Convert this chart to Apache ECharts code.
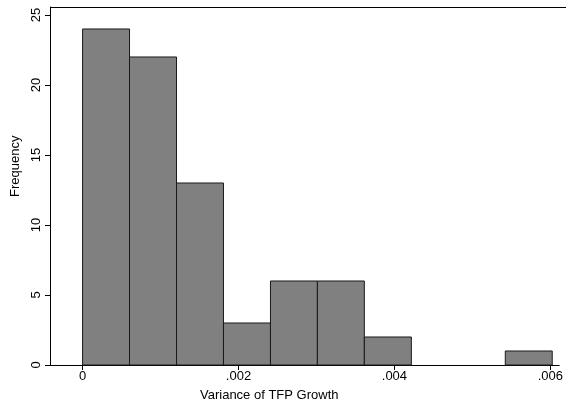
<!DOCTYPE html>
<html>
<head>
<meta charset="utf-8">
<script src="https://cdn.jsdelivr.net/npm/echarts@6/dist/echarts.min.js"></script>
<style>
  html, body { margin: 0; padding: 0; background: #fff; }
  #chart { width: 566px; height: 403px; }
</style>
</head>
<body>
<div id="chart"></div>
<script>
// histogram bins (left/right edges) and counts
var binEdges = [0, 0.000602, 0.001205, 0.001807, 0.002410, 0.003012, 0.003614, 0.004217, 0.004819, 0.005422, 0.006024];
var binCounts = [24, 22, 13, 3, 6, 6, 2, 0, 0, 1];

// tick positions and labels
var xTicks = [0, 0.002, 0.004, 0.006];
var xTickLabels = ['0', '.002', '.004', '.006'];
var yTicks = [0, 5, 10, 15, 20, 25];

var fontFam = '"Liberation Sans", Arial, sans-serif';

var barData = [];
for (var i = 0; i < binCounts.length; i++) {
  barData.push([binEdges[i], binEdges[i + 1], binCounts[i]]);
}

var myChart = echarts.init(document.getElementById('chart'));
var option = {
  animation: false,
  grid: { left: 50, right: 0, top: 7, bottom: 38 },
  xAxis: {
    type: 'value',
    min: -0.000418,
    max: 0.006114,
    splitLine: { show: false },
    axisLine: { show: true, onZero: false, lineStyle: { color: '#000', width: 1 } },
    axisTick: { show: true, length: 5, customValues: xTicks, lineStyle: { color: '#000' } },
    axisLabel: {
      customValues: xTicks,
      margin: 5,
      color: '#000',
      fontSize: 13,
      fontFamily: fontFam,
      formatter: function (v) {
        var idx = xTicks.indexOf(v);
        return idx >= 0 ? xTickLabels[idx] : '';
      }
    }
  },
  yAxis: {
    type: 'value',
    min: 0,
    max: 25.57,
    splitLine: { show: false },
    axisLine: { show: true, onZero: false, lineStyle: { color: '#000', width: 1 } },
    axisTick: { show: true, length: 5, customValues: yTicks, lineStyle: { color: '#000' } },
    axisLabel: {
      customValues: yTicks,
      rotate: 90,
      margin: 7,
      color: '#000',
      fontSize: 13,
      fontFamily: fontFam
    }
  },
  graphic: [{
    // top frame line of the plot region
    type: 'line',
    shape: { x1: 50, y1: 7.5, x2: 566, y2: 7.5 },
    style: { stroke: '#000', lineWidth: 1 }
  }, {
    type: 'text',
    left: 200,
    top: 389,
    style: { text: 'Variance of TFP Growth', fill: '#000', font: '13px ' + fontFam }
  }, {
    type: 'text',
    x: 9,
    y: 197,
    rotation: Math.PI / 2,
    style: { text: 'Frequency', fill: '#000', font: '13px ' + fontFam, textVerticalAlign: 'top' }
  }],
  series: [{
    type: 'custom',
    encode: { x: [0, 1], y: 2 },
    data: barData,
    renderItem: function (params, api) {
      var h = api.value(2);
      if (!h) return null;
      var p0 = api.coord([api.value(0), h]);
      var p1 = api.coord([api.value(1), 0]);
      return {
        type: 'rect',
        shape: { x: p0[0], y: p0[1], width: p1[0] - p0[0], height: p1[1] - p0[1] },
        style: { fill: '#808080', stroke: '#1a1a1a', lineWidth: 1 }
      };
    }
  }]
};
myChart.setOption(option);
</script>
</body>
</html>
